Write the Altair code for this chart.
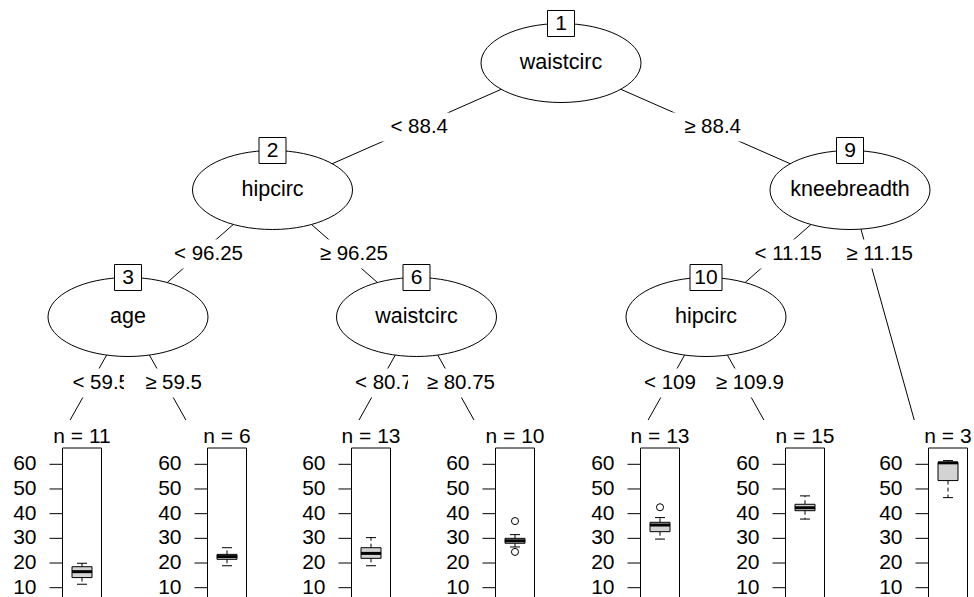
import altair as alt
import pandas as pd

W, H = 974, 597
FONT = "Liberation Sans"

# ---------------- data ----------------
inner_ids = [1, 2, 3, 6, 9, 10]
inner_vars = ["waistcirc", "hipcirc", "age", "waistcirc", "kneebreadth", "hipcirc"]

edge_parent = [1, 1, 2, 2, 3, 3, 6, 6, 9, 9, 10, 10]
edge_child = [2, 9, 3, 6, 4, 5, 7, 8, 10, 13, 11, 12]
edge_text = ["< 88.4", "≥ 88.4", "< 96.25", "≥ 96.25", "< 59.5", "≥ 59.5",
             "< 80.75", "≥ 80.75", "< 11.15", "≥ 11.15", "< 109.9", "≥ 109.9"]

term_ids = [4, 5, 7, 8, 11, 12, 13]
term_n = [11, 6, 13, 10, 13, 15, 3]
whisker_low = [11.4, 18.9, 18.9, 26.5, 29.7, 37.8, 46.5]
hinge_low = [14.1, 21.5, 21.9, 28.0, 32.7, 41.2, 53.4]
median = [16.5, 22.6, 23.9, 29.0, 35.4, 42.4, 60.6]
hinge_high = [18.5, 23.5, 26.2, 30.0, 36.5, 43.8, 60.8]
whisker_high = [19.9, 26.2, 30.3, 31.5, 38.4, 47.2, 61.5]
outlier_node = [8, 8, 11]
outlier_value = [37.0, 24.5, 42.6]
axis_ticks = [10, 20, 30, 40, 50, 60]

# ---------------- layout (pixels) ----------------
inner_x = [561, 272.5, 128, 416.5, 850, 706]
inner_y = [63, 190, 317, 317, 190, 317]
term_x = [55.5, 200.5, 344.5, 488.5, 633.5, 778.5, 921.5]
term_y = 446
label_left = [389, 671, 176, 317, 70, 143, 353, 427, 750, 840, 642, 715]
label_right = [448, 741, 243, 388, 130, 202, 424, 495, 822, 913, 713, 784]
label_y = [127, 127, 254, 254, 383, 383, 383, 383, 254, 254, 383, 383]
RX, RY = 80, 39.5

pos = {i: (x, y) for i, x, y in zip(inner_ids, inner_x, inner_y)}
for t, x in zip(term_ids, term_x):
    pos[t] = (x, term_y)

# ---------------- frames ----------------
edges = pd.DataFrame({
    "x": [pos[p][0] for p in edge_parent],
    "y": [pos[p][1] for p in edge_parent],
    "x2": [pos[c][0] for c in edge_child],
    "y2": [pos[c][1] for c in edge_child],
})

labels = pd.DataFrame({
    "text": edge_text,
    "side": ["left" if t.startswith("<") else "right" for t in edge_text],
    "xr": label_right,
    "bx": [l - 19 for l in label_left],
    "bx2": [r + 1 for r in label_right],
    "y": label_y,
    "by": [y - 14.5 for y in label_y],
    "by2": [y + 14.5 for y in label_y],
})

nodes = pd.DataFrame({
    "id": [str(i) for i in inner_ids],
    "var": inner_vars,
    "x": inner_x,
    "y": inner_y,
    "ty": [y - RY for y in inner_y],
    "bx": [x - (16 if i >= 10 else 13.5) for x, i in zip(inner_x, inner_ids)],
    "bx2": [x + (16 if i >= 10 else 13.5) for x, i in zip(inner_x, inner_ids)],
    "by": [y - RY - 13 for y in inner_y],
    "by2": [y - RY + 13 for y in inner_y],
})

box_cx = [x + 26.5 for x in term_x]
terms = pd.DataFrame({
    "id": term_ids,
    "ntext": [f"n = {n}" for n in term_n],
    "cx": box_cx,
    "bgx": [x - 60 for x in term_x],
    "bgx2": [x + 72 for x in term_x],
    "bgy": 420,
    "bgy2": 620,
    "px": [c - 19.5 for c in box_cx],
    "px2": [c + 19.5 for c in box_cx],
    "py": 448,
    "py2": 640,
    "ny": 437,
    "wl": whisker_low, "q1": hinge_low, "med": median,
    "q3": hinge_high, "wh": whisker_high,
    "bl": [c - 10 for c in box_cx], "br": [c + 10 for c in box_cx],
    "cl": [c - 5 for c in box_cx], "cr": [c + 5 for c in box_cx],
})

ticks = pd.DataFrame([
    {"v": v, "tx": c - 19.5 - 13, "tx2": c - 19.5, "lx": c - 19.5 - 26, "lab": str(v)}
    for c in box_cx for v in axis_ticks
])

cx_of = dict(zip(term_ids, box_cx))
outs = pd.DataFrame({"x": [cx_of[n] for n in outlier_node], "v": outlier_value})

# ---------------- scales ----------------
XS = alt.Scale(domain=[0, W], range=[0, W])
YS = alt.Scale(domain=[0, H], range=[0, H])
VS = alt.Scale(domain=[10, 60], range=[587.7, 464.3])


def X(f):
    return alt.X(f, type="quantitative", scale=XS, axis=None)


def Y(f):
    return alt.Y(f, type="quantitative", scale=YS, axis=None)


def V(f):
    return alt.Y(f, type="quantitative", scale=VS, axis=None)


base_e = alt.Chart(edges)
l_edges = base_e.mark_rule(color="black", strokeWidth=1).encode(
    x=X("x"), y=Y("y"), x2="x2", y2="y2")

base_n = alt.Chart(nodes)
l_ell = base_n.mark_point(
    shape="M -1 0 A 1 0.49375 0 1 1 1 0 A 1 0.49375 0 1 1 -1 0 Z",
    size=25600, filled=True, fill="white", stroke="black", strokeWidth=1, opacity=1,
).encode(x=X("x"), y=Y("y"))
l_var = base_n.mark_text(font=FONT, fontSize=21.5, color="black", baseline="middle").encode(
    x=X("x"), y=Y("y"), text="var")
l_idbox = base_n.mark_rect(fill="white", stroke="black", strokeWidth=1).encode(
    x=X("bx"), x2="bx2", y=Y("by"), y2="by2")
l_idtxt = base_n.mark_text(font=FONT, fontSize=21, color="black", baseline="middle").encode(
    x=X("x"), y=Y("ty"), text="id")

base_l = alt.Chart(labels)
lab_layers = []
for side in ["left", "right"]:
    b = base_l.transform_filter(alt.datum.side == side)
    lab_layers.append(b.mark_rect(fill="white", strokeWidth=0).encode(
        x=X("bx"), x2="bx2", y=Y("by"), y2="by2"))
    lab_layers.append(b.mark_text(font=FONT, fontSize=20.5, color="black",
                                  align="right", baseline="middle").encode(
        x=X("xr"), y=Y("y"), text="text"))

base_t = alt.Chart(terms)
l_bg = base_t.mark_rect(fill="white", strokeWidth=0).encode(
    x=X("bgx"), x2="bgx2", y=Y("bgy"), y2="bgy2")
l_panel = base_t.mark_rect(fill="white", stroke="black", strokeWidth=1).encode(
    x=X("px"), x2="px2", y=Y("py"), y2="py2")
l_n = base_t.mark_text(font=FONT, fontSize=21, color="black", baseline="middle").encode(
    x=X("cx"), y=Y("ny"), text="ntext")

base_k = alt.Chart(ticks)
l_ticks = base_k.mark_rule(color="black", strokeWidth=1).encode(
    x=X("tx"), x2="tx2", y=V("v"))
l_tlab = base_k.mark_text(font=FONT, fontSize=21, color="black", align="right",
                          baseline="middle").encode(x=X("lx"), y=V("v"), text="lab")

l_wu = base_t.mark_rule(color="black", strokeWidth=1, strokeDash=[4, 3]).encode(
    x=X("cx"), y=V("q3"), y2="wh")
l_wd = base_t.mark_rule(color="black", strokeWidth=1, strokeDash=[4, 3]).encode(
    x=X("cx"), y=V("q1"), y2="wl")
l_cap_u = base_t.mark_rule(color="black", strokeWidth=1).encode(
    x=X("cl"), x2="cr", y=V("wh"))
l_cap_d = base_t.mark_rule(color="black", strokeWidth=1).encode(
    x=X("cl"), x2="cr", y=V("wl"))
l_box = base_t.mark_rect(fill="#D3D3D3", stroke="black", strokeWidth=1).encode(
    x=X("bl"), x2="br", y=V("q1"), y2="q3")
l_med = base_t.mark_rule(color="black", strokeWidth=3).encode(
    x=X("bl"), x2="br", y=V("med"))
l_out = alt.Chart(outs).mark_point(shape="circle", size=50, filled=False,
                                   stroke="black", strokeWidth=1, opacity=1).encode(
    x=X("x"), y=V("v"))

chart = alt.layer(
    l_edges, l_ell, l_var, l_idbox, l_idtxt, *lab_layers,
    l_bg, l_panel, l_n, l_ticks, l_tlab,
    l_wu, l_wd, l_cap_u, l_cap_d, l_box, l_med, l_out,
).resolve_scale(y="independent").properties(
    width=W, height=H, padding=0, autosize=alt.AutoSizeParams(type="none"),
).configure_view(stroke=None)

chart.save("out.html", embed_options={"renderer": "svg", "actions": False})
